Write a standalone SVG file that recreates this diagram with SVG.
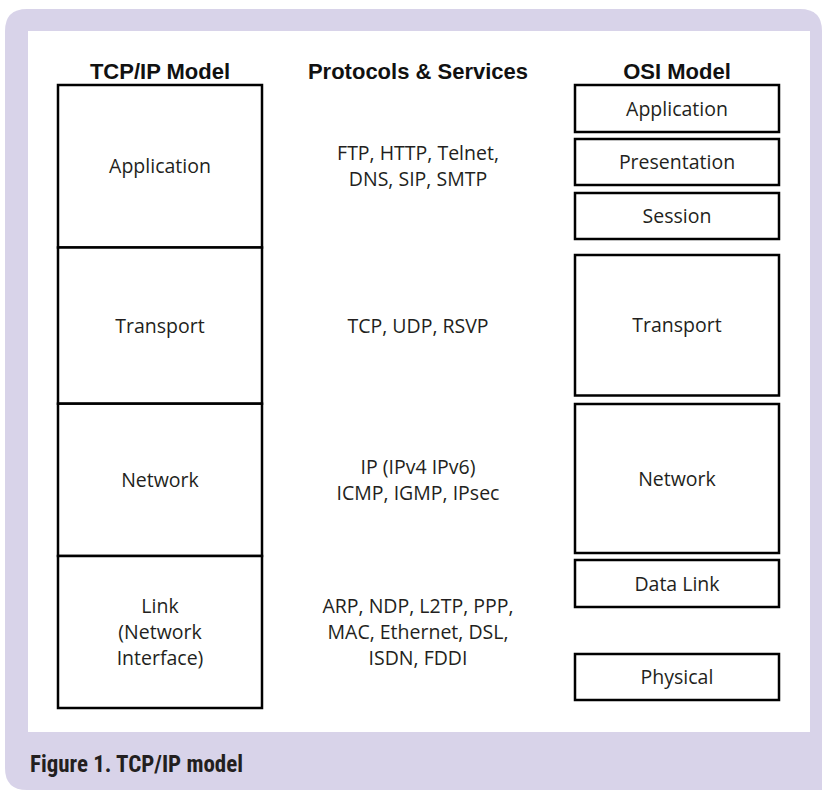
<svg xmlns="http://www.w3.org/2000/svg" width="822" height="790" viewBox="0 0 822 790">
<style>
.box{fill:#fff;stroke:#000;stroke-width:2.5}
.hd{font-family:"Liberation Sans",Arial,sans-serif;font-weight:bold;font-size:22px;fill:#111;text-anchor:middle}
.lb{font-family:"Open Sans","Noto Sans",sans-serif;font-size:19.5px;fill:#231f20;text-anchor:middle}
.cap{font-family:"Liberation Sans Narrow","Roboto Condensed",Roboto,sans-serif;font-weight:bold;font-size:24px;fill:#231f20}
</style>
<path d="M5,31 Q5,9 27,9 H800 Q822,9 822,31 V790 H27 Q5,790 5,768 Z" fill="#d8d3e9"/>
<rect x="28" y="31" width="782" height="701" fill="#fff"/>
<g id="headers">
<text class="hd" x="160" y="79">TCP/IP Model</text>
<text class="hd" x="418" y="79">Protocols &amp; Services</text>
<text class="hd" x="677" y="79">OSI Model</text>
</g>
<g id="tcp-application"><rect class="box" x="58" y="85" width="204" height="162.5"/><text class="lb" x="160" y="173">Application</text></g>
<g id="tcp-transport"><rect class="box" x="58" y="247.5" width="204" height="156.2"/><text class="lb" x="160" y="333">Transport</text></g>
<g id="tcp-network"><rect class="box" x="58" y="403.7" width="204" height="152.3"/><text class="lb" x="160" y="487">Network</text></g>
<g id="tcp-link"><rect class="box" x="58" y="556" width="204" height="152"/><text class="lb" x="160" y="613">Link</text><text class="lb" x="160" y="639">(Network</text><text class="lb" x="160" y="665">Interface)</text></g>
<g id="proto-application"><text class="lb" x="418" y="160">FTP, HTTP, Telnet,</text><text class="lb" x="418" y="186">DNS, SIP, SMTP</text></g>
<g id="proto-transport"><text class="lb" x="418" y="333">TCP, UDP, RSVP</text></g>
<g id="proto-network"><text class="lb" x="418" y="474">IP (IPv4 IPv6)</text><text class="lb" x="418" y="500">ICMP, IGMP, IPsec</text></g>
<g id="proto-link"><text class="lb" x="418" y="613">ARP, NDP, L2TP, PPP,</text><text class="lb" x="418" y="639">MAC, Ethernet, DSL,</text><text class="lb" x="418" y="665">ISDN, FDDI</text></g>
<g id="osi-application"><rect class="box" x="575" y="85" width="204" height="47"/><text class="lb" x="677" y="115.5">Application</text></g>
<g id="osi-presentation"><rect class="box" x="575" y="139" width="204" height="46"/><text class="lb" x="677" y="169">Presentation</text></g>
<g id="osi-session"><rect class="box" x="575" y="193" width="204" height="46"/><text class="lb" x="677" y="223">Session</text></g>
<g id="osi-transport"><rect class="box" x="575" y="255" width="204" height="140.5"/><text class="lb" x="677" y="332">Transport</text></g>
<g id="osi-network"><rect class="box" x="575" y="404" width="204" height="149"/><text class="lb" x="677" y="485.5">Network</text></g>
<g id="osi-datalink"><rect class="box" x="575" y="560" width="204" height="47"/><text class="lb" x="677" y="590.5">Data Link</text></g>
<g id="osi-physical"><rect class="box" x="575" y="654" width="204" height="46"/><text class="lb" x="677" y="684">Physical</text></g>
<g id="connectors"></g>
<text class="cap" x="30" y="772" textLength="213" lengthAdjust="spacingAndGlyphs">Figure 1. TCP/IP model</text>
</svg>
